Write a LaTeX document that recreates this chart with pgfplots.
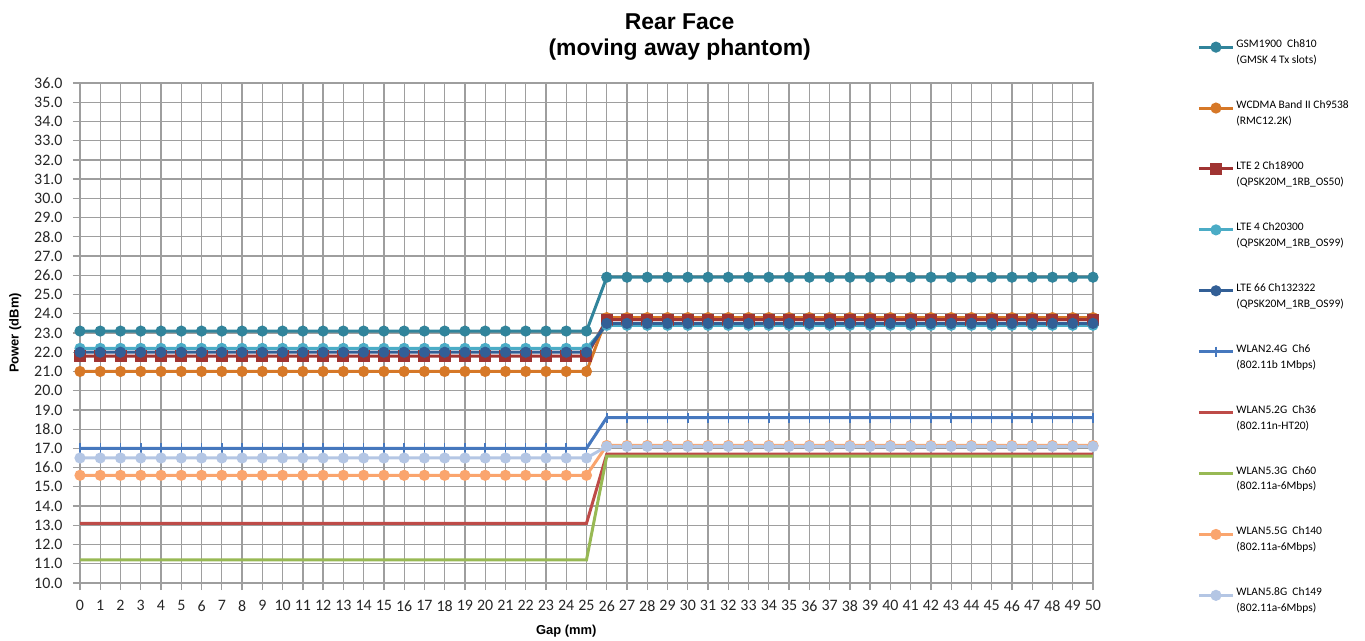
\documentclass[border=0pt]{standalone}
\usepackage{pgfplots}
\usepackage{pgfplotstable}
\pgfplotsset{compat=1.18}
\usepackage{fontspec}
\setmainfont{Carlito}
\newfontfamily\arialfont{Liberation Sans}

\definecolor{cgsm}{RGB}{49,132,155}
\definecolor{cwcdma}{RGB}{214,120,40}
\definecolor{clteb}{RGB}{160,52,50}
\definecolor{cltec}{RGB}{75,172,198}
\definecolor{clted}{RGB}{50,95,150}
\definecolor{cwa}{RGB}{70,120,190}
\definecolor{cwb}{RGB}{190,75,72}
\definecolor{cwc}{RGB}{152,185,84}
\definecolor{cwd}{RGB}{250,165,110}
\definecolor{cwe}{RGB}{180,198,228}

% power (dBm) against gap (mm)
\pgfplotstableread{
x  gsm  wcdma lte2 lte4 lte66 wa   wb   wc   wd    we
0  23.1 21.0  21.8 22.2 22.0  17.0 13.1 11.2 15.6  16.5
1  23.1 21.0  21.8 22.2 22.0  17.0 13.1 11.2 15.6  16.5
2  23.1 21.0  21.8 22.2 22.0  17.0 13.1 11.2 15.6  16.5
3  23.1 21.0  21.8 22.2 22.0  17.0 13.1 11.2 15.6  16.5
4  23.1 21.0  21.8 22.2 22.0  17.0 13.1 11.2 15.6  16.5
5  23.1 21.0  21.8 22.2 22.0  17.0 13.1 11.2 15.6  16.5
6  23.1 21.0  21.8 22.2 22.0  17.0 13.1 11.2 15.6  16.5
7  23.1 21.0  21.8 22.2 22.0  17.0 13.1 11.2 15.6  16.5
8  23.1 21.0  21.8 22.2 22.0  17.0 13.1 11.2 15.6  16.5
9  23.1 21.0  21.8 22.2 22.0  17.0 13.1 11.2 15.6  16.5
10 23.1 21.0  21.8 22.2 22.0  17.0 13.1 11.2 15.6  16.5
11 23.1 21.0  21.8 22.2 22.0  17.0 13.1 11.2 15.6  16.5
12 23.1 21.0  21.8 22.2 22.0  17.0 13.1 11.2 15.6  16.5
13 23.1 21.0  21.8 22.2 22.0  17.0 13.1 11.2 15.6  16.5
14 23.1 21.0  21.8 22.2 22.0  17.0 13.1 11.2 15.6  16.5
15 23.1 21.0  21.8 22.2 22.0  17.0 13.1 11.2 15.6  16.5
16 23.1 21.0  21.8 22.2 22.0  17.0 13.1 11.2 15.6  16.5
17 23.1 21.0  21.8 22.2 22.0  17.0 13.1 11.2 15.6  16.5
18 23.1 21.0  21.8 22.2 22.0  17.0 13.1 11.2 15.6  16.5
19 23.1 21.0  21.8 22.2 22.0  17.0 13.1 11.2 15.6  16.5
20 23.1 21.0  21.8 22.2 22.0  17.0 13.1 11.2 15.6  16.5
21 23.1 21.0  21.8 22.2 22.0  17.0 13.1 11.2 15.6  16.5
22 23.1 21.0  21.8 22.2 22.0  17.0 13.1 11.2 15.6  16.5
23 23.1 21.0  21.8 22.2 22.0  17.0 13.1 11.2 15.6  16.5
24 23.1 21.0  21.8 22.2 22.0  17.0 13.1 11.2 15.6  16.5
25 23.1 21.0  21.8 22.2 22.0  17.0 13.1 11.2 15.6  16.5
26 25.9 23.8  23.7 23.4 23.5  18.6 16.7 16.6 17.15 17.1
27 25.9 23.8  23.7 23.4 23.5  18.6 16.7 16.6 17.15 17.1
28 25.9 23.8  23.7 23.4 23.5  18.6 16.7 16.6 17.15 17.1
29 25.9 23.8  23.7 23.4 23.5  18.6 16.7 16.6 17.15 17.1
30 25.9 23.8  23.7 23.4 23.5  18.6 16.7 16.6 17.15 17.1
31 25.9 23.8  23.7 23.4 23.5  18.6 16.7 16.6 17.15 17.1
32 25.9 23.8  23.7 23.4 23.5  18.6 16.7 16.6 17.15 17.1
33 25.9 23.8  23.7 23.4 23.5  18.6 16.7 16.6 17.15 17.1
34 25.9 23.8  23.7 23.4 23.5  18.6 16.7 16.6 17.15 17.1
35 25.9 23.8  23.7 23.4 23.5  18.6 16.7 16.6 17.15 17.1
36 25.9 23.8  23.7 23.4 23.5  18.6 16.7 16.6 17.15 17.1
37 25.9 23.8  23.7 23.4 23.5  18.6 16.7 16.6 17.15 17.1
38 25.9 23.8  23.7 23.4 23.5  18.6 16.7 16.6 17.15 17.1
39 25.9 23.8  23.7 23.4 23.5  18.6 16.7 16.6 17.15 17.1
40 25.9 23.8  23.7 23.4 23.5  18.6 16.7 16.6 17.15 17.1
41 25.9 23.8  23.7 23.4 23.5  18.6 16.7 16.6 17.15 17.1
42 25.9 23.8  23.7 23.4 23.5  18.6 16.7 16.6 17.15 17.1
43 25.9 23.8  23.7 23.4 23.5  18.6 16.7 16.6 17.15 17.1
44 25.9 23.8  23.7 23.4 23.5  18.6 16.7 16.6 17.15 17.1
45 25.9 23.8  23.7 23.4 23.5  18.6 16.7 16.6 17.15 17.1
46 25.9 23.8  23.7 23.4 23.5  18.6 16.7 16.6 17.15 17.1
47 25.9 23.8  23.7 23.4 23.5  18.6 16.7 16.6 17.15 17.1
48 25.9 23.8  23.7 23.4 23.5  18.6 16.7 16.6 17.15 17.1
49 25.9 23.8  23.7 23.4 23.5  18.6 16.7 16.6 17.15 17.1
50 25.9 23.8  23.7 23.4 23.5  18.6 16.7 16.6 17.15 17.1
}\data

\newcommand{\entry}[2]{\begin{tabular}{@{}l@{}}#1\\[1bp]#2\end{tabular}}

\begin{document}
\begin{tikzpicture}
\path[use as bounding box] (0,0) rectangle (1365bp,641bp);
\begin{axis}[
    at={(80bp,58bp)}, anchor=south west,
    scale only axis, width=1013bp, height=500bp,
    xmin=0, xmax=50, ymin=10, ymax=36,
    xtick={0,1,...,50}, ytick={10,11,...,36},
    yticklabel style={xshift=-7bp, /pgf/number format/.cd, fixed, fixed zerofill, precision=1},
    xticklabel style={yshift=-7bp},
    /pgf/number format/assume math mode=true,
    tick label style={font=\fontsize{16}{18}\selectfont, text=black!85},
    grid=major,
    major grid style={draw=black!38, line width=1.3bp},
    axis line style={draw=black!38, line width=1.3bp},
    tick style={draw=black!38, line width=1.3bp},
    tick align=outside, tick pos=left, major tick length=7bp,
    title={Rear Face\\(moving away phantom)},
    title style={at={(axis description cs:0.592,1.08)}, anchor=center, align=center,
        font=\arialfont\bfseries\fontsize{23}{27}\selectfont},
    xlabel={Gap (mm)},
    xlabel style={at={(axis description cs:0.48,-0.096)}, anchor=center,
        font=\arialfont\bfseries\fontsize{13}{15}\selectfont},
    ylabel={Power (dBm)},
    ylabel style={at={(axis description cs:-0.064,0.5)}, anchor=center,
        font=\arialfont\bfseries\fontsize{13}{15}\selectfont},
    legend style={at={(axis description cs:1.1,1.1)}, anchor=north west, draw=none,
        fill=none, row sep=37bp, font=\fontsize{11.5}{15}\selectfont,
        nodes={inner xsep=2bp}},
    legend cell align=left,
    legend image code/.code={\draw[mark repeat=2,mark phase=2,#1]
        plot coordinates {(0bp,0bp) (17bp,0bp) (34bp,0bp)};},
    every axis plot/.append style={line width=3bp},
]
\addplot[cgsm, mark=*, mark size=4bp] table[x=x, y=gsm] {\data};
\addlegendentry{\entry{GSM1900~~Ch810}{(GMSK 4 Tx slots)}}
\addplot[cwcdma, mark=*, mark size=4bp] table[x=x, y=wcdma] {\data};
\addlegendentry{\entry{WCDMA Band II Ch9538}{(RMC12.2K)}}
\addplot[clteb, mark=square*, mark size=4.5bp] table[x=x, y=lte2] {\data};
\addlegendentry{\entry{LTE 2 Ch18900}{(QPSK20M\_1RB\_OS50)}}
\addplot[cltec, mark=*, mark size=4bp] table[x=x, y=lte4] {\data};
\addlegendentry{\entry{LTE 4 Ch20300}{(QPSK20M\_1RB\_OS99)}}
\addplot[clted, mark=*, mark size=4bp] table[x=x, y=lte66] {\data};
\addlegendentry{\entry{LTE 66 Ch132322}{(QPSK20M\_1RB\_OS99)}}
\addplot[cwa, mark=|, mark size=5bp, mark options={line width=1.5bp}] table[x=x, y=wa] {\data};
\addlegendentry{\entry{WLAN2.4G~~Ch6}{(802.11b 1Mbps)}}
\addplot[cwb, no marks] table[x=x, y=wb] {\data};
\addlegendentry{\entry{WLAN5.2G~~Ch36}{(802.11n-HT20)}}
\addplot[cwc, no marks] table[x=x, y=wc] {\data};
\addlegendentry{\entry{WLAN5.3G~~Ch60}{(802.11a-6Mbps)}}
\addplot[cwd, mark=*, mark size=4bp] table[x=x, y=wd] {\data};
\addlegendentry{\entry{WLAN5.5G~~Ch140}{(802.11a-6Mbps)}}
\addplot[cwe, mark=*, mark size=4bp] table[x=x, y=we] {\data};
\addlegendentry{\entry{WLAN5.8G~~Ch149}{(802.11a-6Mbps)}}
\end{axis}
\end{tikzpicture}
\end{document}
